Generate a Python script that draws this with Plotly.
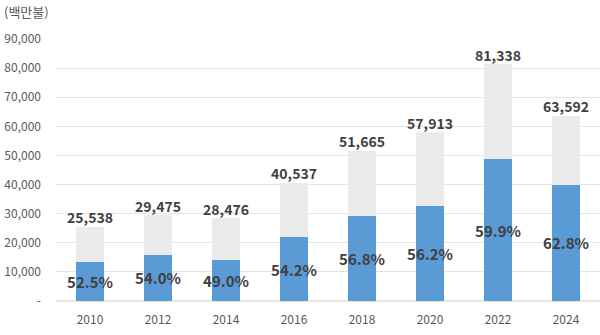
import plotly.graph_objects as go

years = ["2010", "2012", "2014", "2016", "2018", "2020", "2022", "2024"]
totals = [25538, 29475, 28476, 40537, 51665, 57913, 81338, 63592]
blue_vals = [13400, 15900, 13950, 21970, 29340, 32550, 48720, 39940]
pct_labels = ["52.5%", "54.0%", "49.0%", "54.2%", "56.8%", "56.2%", "59.9%", "62.8%"]
total_labels = ["25,538", "29,475", "28,476", "40,537", "51,665", "57,913", "81,338", "63,592"]
ytick_vals = [0, 10000, 20000, 30000, 40000, 50000, 60000, 70000, 80000, 90000]
ytick_text = ["-", "10,000", "20,000", "30,000", "40,000", "50,000", "60,000", "70,000", "80,000", "90,000"]

FONT = "Noto Sans CJK KR"
gray_vals = [t - b for t, b in zip(totals, blue_vals)]

fig = go.Figure()
fig.add_trace(go.Bar(x=years, y=blue_vals, marker=dict(color="#5b9bd5", line_width=0),
                     text=pct_labels, textposition="inside", insidetextanchor="middle",
                     textangle=0,
                     textfont=dict(family=FONT, size=15, color="#404040", weight="bold"),
                     constraintext="none", cliponaxis=False, hoverinfo="skip"))
fig.add_trace(go.Bar(x=years, y=gray_vals, marker=dict(color="#ebebeb", line_width=0),
                     hoverinfo="skip"))
fig.add_trace(go.Scatter(x=years, y=totals, mode="text", text=total_labels,
                         textposition="top center", cliponaxis=False,
                         textfont=dict(family=FONT, size=14, color="#404040", weight="bold"),
                         hoverinfo="skip"))

fig.add_annotation(xref="paper", yref="paper", x=-0.1, y=1.06, xanchor="left", yanchor="bottom",
                   text="(백만불)", showarrow=False,
                   font=dict(family=FONT, size=13, color="#595959"))

fig.update_layout(
    barmode="stack", bargap=0.6, showlegend=False,
    width=600, height=335,
    margin=dict(l=56, r=0, t=39, b=34),
    plot_bgcolor="white", paper_bgcolor="white",
    font=dict(family=FONT, size=12, color="#595959"),
    uniformtext=dict(mode="show", minsize=8),
)
fig.update_xaxes(type="category", showgrid=False, showline=False, ticks="",
                 ticklabelstandoff=10,
                 tickfont=dict(size=12, color="#595959"))
fig.update_yaxes(range=[0, 90000], tickvals=ytick_vals, ticktext=ytick_text,
                 showgrid=True, gridcolor="#e4e4e4", gridwidth=1, zeroline=True,
                 zerolinecolor="#e4e4e4", ticks="", ticklabelstandoff=14,
                 tickfont=dict(size=12, color="#595959"))

fig.write_html("out.html")
